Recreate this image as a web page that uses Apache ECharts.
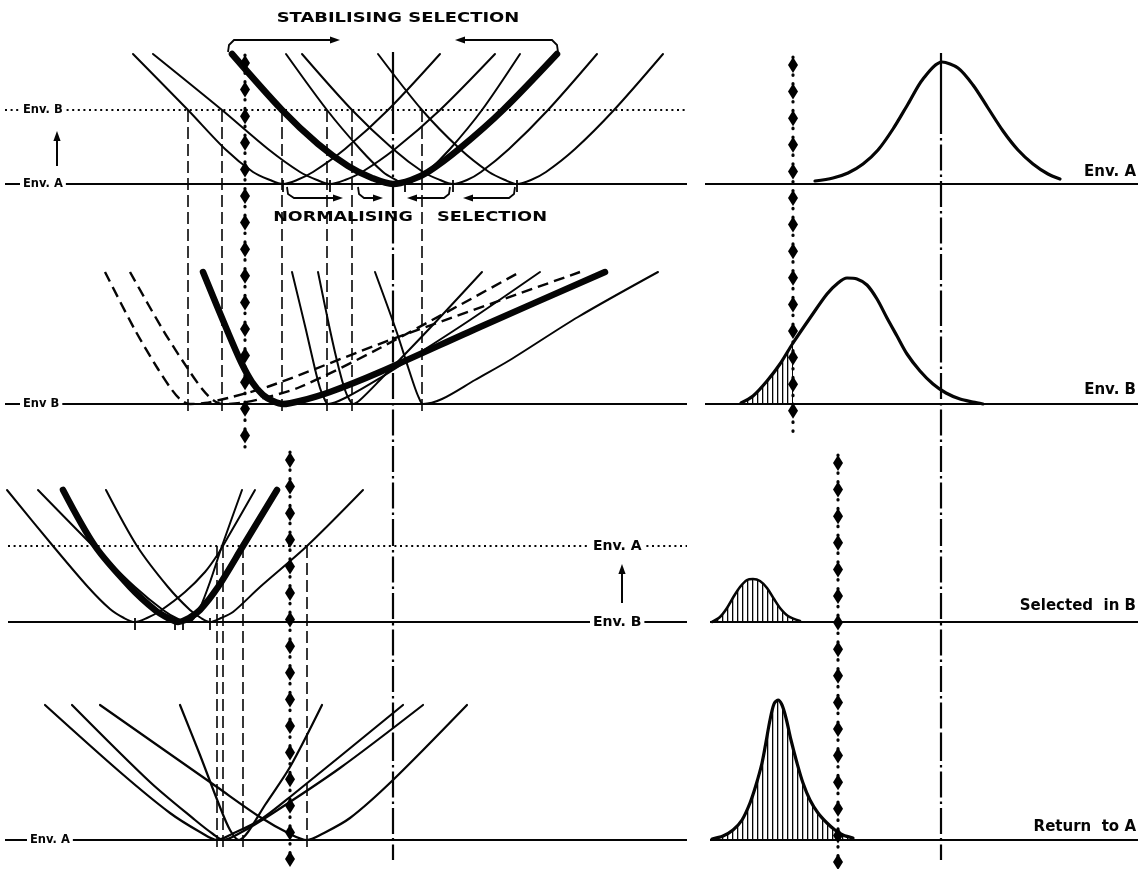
<!DOCTYPE html>
<html>
<head>
<meta charset="utf-8">
<title>Stabilising and normalising selection</title>
<script src="https://cdn.jsdelivr.net/npm/echarts@6.0.0/dist/echarts.min.js"></script>
<style>
html,body{margin:0;padding:0;background:#fff;}
#chart{width:1141px;height:869px;}
</style>
</head>
<body>
<div id="chart"></div>
<script>
// ================= DATA =================
// x = phenotype value, y = height above the panel's own baseline
const meanPhenotype = 393;
const selectionCutUpper = 245;
const selectionCutLower = 290;
const envBAboveEnvA = 74;
const envAAboveEnvB = 76;

// Panel 1 – reaction norms, Env. A baseline, Env. B dotted level
const p1ThinNorms = [
  [[133,130],[188,74],[225,35],[253,12],[270,4],[283,0],[297,4],[313,12],[345,35],[388,74],[440,130]],
  [[153,130],[222,74],[268,35],[300,12],[317,4],[330,0],[345,4],[362,12],[395,35],[440,74],[495,130]],
  [[286,130],[327,74],[360,35],[383,12],[396,4],[405,0],[415,4],[427,12],[450,35],[482,74],[520,130]],
  [[302,130],[352,74],[393,35],[423,12],[440,4],[453,0],[467,4],[481,12],[509,35],[548,74],[597,130]],
  [[378,130],[422,74],[460,35],[489,12],[505,4],[517,0],[531,4],[546,12],[575,35],[614,74],[663,130]]
];
const p1ThickNorm = [[232,130],[282,74],[318,40],[348,18],[372,6],[393,0],[411,4],[428,12],[459,35],[503,74],[557,130]];
const p1VertexTicks = [283, 330, 405, 453, 517];
const p1ToP2Links = [188, 222, 282, 327, 352, 422];

// Panel 2 – the same genotypes in Env. B
const p2DashedNorms = [
  [[105,132],[135,74],[158,35],[172,14],[181,4],[190,0],[205,1],[228,6],[270,18],[390,64],[580,132]],
  [[130,132],[163,74],[188,35],[203,14],[213,4],[222,0],[240,1],[260,5],[300,17],[380,56],[520,132]]
];
const p2ThickNorm = [[203,132],[227,74],[241,42],[252,22],[263,9],[273,3],[283,0],[300,3],[330,12],[380,32],[480,77],[605,132]];
const p2ThinNorms = [
  [[292,132],[306,74],[315,35],[320,16],[324,6],[328,0],[345,6],[380,26],[413,47],[470,84],[540,132]],
  [[318,132],[330,74],[339,35],[345,14],[349,5],[353,0],[360,4],[380,24],[430,76],[482,132]],
  [[375,132],[396,74],[408,37],[415,16],[419,6],[423,0],[442,5],[475,24],[510,44],[578,87],[658,132]]
];

// Panel 3 – selected genotypes, Env. B baseline, Env. A dotted level
const p3ThinNorms = [
  [[7,132],[53,76],[88,35],[110,13],[124,4],[135,0],[147,4],[160,11],[185,30],[205,50],[218,68],[228,85],[255,132]],
  [[38,132],[93,76],[135,35],[163,12],[178,3],[188,0],[194,4],[200,14],[210,40],[222,76],[242,132]],
  [[106,132],[137,76],[168,35],[190,12],[201,4],[210,0],[221,4],[233,10],[260,35],[307,76],[363,132]]
];
const p3ThickNorm = [[63,132],[95,76],[130,35],[155,12],[168,4],[178,0],[189,4],[200,12],[218,35],[243,76],[277,132]];
const p3VertexTicks = [135, 175, 183, 210];
const p3ToP4Links = [217, 223, 243, 307];

// Panel 4 – returned to Env. A
const p4ThinNorms = [
  [[45,135],[120,68],[170,27],[200,8],[217,0],[232,6],[260,20],[290,43],[403,135]],
  [[72,135],[150,58],[195,20],[213,6],[223,0],[240,7],[270,25],[340,72],[423,135]],
  [[180,135],[200,85],[218,38],[230,10],[239,0],[248,8],[265,35],[290,73],[322,135]],
  [[100,135],[217,53],[260,23],[290,6],[307,0],[322,6],[350,22],[393,60],[467,135]]
];

// Right column – phenotype distributions
const distEnvA = [[267,3],[285,6],[300,11],[315,20],[330,34],[345,55],[360,80],[375,105],[394,122],[410,116],[425,99],[440,76],[455,53],[470,34],[485,20],[500,10],[512,5]];
const distEnvB = [[193,1],[205,8],[219,23],[232,40],[245,61],[262,86],[279,110],[290,121],[299,126],[309,125],[319,119],[329,105],[339,86],[349,68],[359,50],[372,33],[385,20],[398,11],[412,5],[425,2],[435,0]];
const distSelectedInB = [[164,0],[172,5],[179,14],[186,26],[192,35],[199,42],[205,43],[212,41],[219,34],[226,23],[232,14],[240,6],[252,1]];
const distReturnToA = [[164,1],[175,4],[185,10],[194,20],[202,37],[208,55],[214,77],[218,98],[222,120],[226,136],[230,140],[234,135],[238,122],[243,100],[249,77],[255,57],[262,40],[270,27],[279,17],[287,10],[295,5],[305,2]];

const titleTop = 'STABILISING SELECTION';
const titleMidLeft = 'NORMALISING';
const titleMidRight = 'SELECTION';
const leftLabels = ['Env. B', 'Env. A', 'Env B', 'Env. A'];
const panel3Labels = ['Env. A', 'Env. B'];
const rightLabels = ['Env. A', 'Env. B', 'Selected  in B', 'Return  to A'];

// ================= LAYOUT / STYLE =================
const INK = '#050505';
const BASE_Y = [184, 404, 622, 840];
const RIGHT_XMIN = 152, RIGHT_XMAX = 593;
const LFONT = 'bold 11.5px "DejaVu Sans"';
const MFONT = 'bold 14px "DejaVu Sans"';
const RFONT = 'bold 15px "DejaVu Sans"';

const hatch = document.createElement('canvas');
hatch.width = 5; hatch.height = 4;
(function(){ const g = hatch.getContext('2d'); g.fillStyle = INK; g.fillRect(2,0,1.3,4); })();

const grids = [], xAxes = [], yAxes = [];
BASE_Y.forEach((b, i) => {
  grids.push({left: 0, top: b - 150, width: 700, height: 170});
  xAxes.push({type: 'value', gridIndex: i, min: 0, max: 700, show: false});
  yAxes.push({type: 'value', gridIndex: i, min: -20, max: 150, show: false});
});
BASE_Y.forEach((b, i) => {
  grids.push({left: 700, top: b - 150, width: 441, height: 170});
  xAxes.push({type: 'value', gridIndex: 4 + i, min: RIGHT_XMIN, max: RIGHT_XMAX, show: false});
  yAxes.push({type: 'value', gridIndex: 4 + i, min: -20, max: 150, show: false});
});

const series = [];
const hAt = (gi, py) => BASE_Y[gi % 4] - py;
function curve(gi, pts, w, type, smooth, cap) {
  series.push({
    type: 'line', xAxisIndex: gi, yAxisIndex: gi, data: pts,
    smooth: smooth === undefined ? 0.3 : smooth, symbol: 'none', clip: false, silent: true,
    lineStyle: {color: INK, width: w, type: type || 'solid', cap: cap || 'round', join: 'round'}, z: 3
  });
}
function hatchArea(gi, pts) {
  series.push({
    type: 'line', xAxisIndex: gi, yAxisIndex: gi, data: pts, smooth: 0.3,
    symbol: 'none', clip: false, silent: true,
    lineStyle: {width: 0, opacity: 0},
    areaStyle: {color: {image: hatch, repeat: 'repeat'}, opacity: 1}, z: 2
  });
}
function hline(gi, x0, x1, h, w, type) {
  curve(gi, [[x0, h], [x1, h]], w, type, false, 'butt');
}
function vline(gi, x, pyTop, pyBot, w, type, cap) {
  curve(gi, [[x, hAt(gi, pyTop)], [x, hAt(gi, pyBot)]], w, type, false, cap || 'butt');
}
function diamondLine(gi, x, pyTop, pyBot) {
  vline(gi, x, pyTop, pyBot, 3.2, [0.5, 8.4], 'round');
  const pts = [];
  for (let py = pyTop + 8; py <= pyBot - 2; py += 26.6) pts.push([x, hAt(gi, py)]);
  series.push({type: 'scatter', xAxisIndex: gi, yAxisIndex: gi, data: pts, symbol: 'diamond',
    symbolSize: [10, 16], clip: false, silent: true, itemStyle: {color: '#000', opacity: 1}, z: 4});
}

// baselines and environment levels
hline(0, 5, 687, 0, 1.8);
hline(0, 5, 687, envBAboveEnvA, 2, [2, 3.6]);
hline(1, 5, 687, 0, 1.8);
hline(2, 8, 687, envAAboveEnvB, 2, [2, 3.6]);
hline(2, 8, 687, 0, 1.8);
hline(3, 5, 687, 0, 1.8);
hline(4, 157, 590, 0, 2);
hline(5, 157, 590, 0, 2);
hline(6, 162, 590, 0, 2);
hline(7, 162, 590, 0, 2);

// reaction norms
p1ThinNorms.forEach(c => curve(0, c, 2));
curve(0, p1ThickNorm, 6.5);
p2DashedNorms.forEach(c => curve(1, c, 2.4, [11, 6], 0.3, 'butt'));
curve(1, p2ThickNorm, 6.5);
p2ThinNorms.forEach(c => curve(1, c, 2));
p3ThinNorms.forEach(c => curve(2, c, 2));
curve(2, p3ThickNorm, 6.5);
p4ThinNorms.forEach(c => curve(3, c, 2.2));

// connectors and ticks
p1ToP2Links.forEach(x => vline(1, x, BASE_Y[0] - envBAboveEnvA, BASE_Y[1] + 8, 1.6, [12, 5]));
p3ToP4Links.forEach(x => vline(3, x, BASE_Y[2] - envAAboveEnvB, BASE_Y[3] + 8, 1.6, [12, 5]));
p1VertexTicks.forEach(x => vline(0, x, BASE_Y[0] - 4, BASE_Y[0] + 8, 1.8));
p3VertexTicks.forEach(x => vline(2, x, BASE_Y[2] - 4, BASE_Y[2] + 8, 1.8));

// mean (dash-dot), drawn panel by panel, and selection thresholds (diamond lines)
const DASHDOT = [26, 4, 2.5, 4];
const MEAN_SEGMENTS = [[108, 300], [300, 520], [520, 735], [735, 860]];
vline(0, meanPhenotype, 52, 108, 2.2);
vline(4, meanPhenotype, 53, 108, 2.2);
MEAN_SEGMENTS.forEach((s, i) => {
  vline(i, meanPhenotype, s[0], s[1], 2.2, DASHDOT);
  vline(4 + i, meanPhenotype, s[0], s[1], 2.2, DASHDOT);
});
diamondLine(0, selectionCutUpper, 55, 447);
diamondLine(2, selectionCutLower, 452, 865);
diamondLine(4, selectionCutUpper, 57, 438);
diamondLine(6, selectionCutLower, 455, 865);

// distributions
curve(4, distEnvA, 3.2);
hatchArea(5, distEnvB.filter(p => p[0] <= selectionCutUpper));
curve(5, distEnvB, 3.2);
hatchArea(6, distSelectedInB);
curve(6, distSelectedInB, 2.6);
hatchArea(7, distReturnToA);
curve(7, distReturnToA, 3.2);

// ---------- annotations ----------
function txt(text, x, y, font, align, sx, bg) {
  const el = {type: 'text', x: x, y: y, z: 100, scaleX: sx || 1,
    style: {text: text, font: font, fill: INK, textAlign: align, textVerticalAlign: 'middle',
            align: align, verticalAlign: 'middle'}};
  if (bg) { el.style.backgroundColor = '#fff'; el.style.padding = [1, 3]; }
  return el;
}
function pl(points, w) {
  return {type: 'polyline', z: 100, shape: {points: points}, style: {stroke: INK, lineWidth: w || 1.8, fill: null}};
}
function head(tx, ty, dir) {
  const L = 10, W = 3.6;
  let pts;
  if (dir === 'r') pts = [[tx, ty], [tx - L, ty - W], [tx - L, ty + W]];
  else if (dir === 'l') pts = [[tx, ty], [tx + L, ty - W], [tx + L, ty + W]];
  else pts = [[tx, ty], [tx - W, ty + L], [tx + W, ty + L]];
  return {type: 'polygon', z: 100, shape: {points: pts}, style: {fill: INK}};
}

const graphics = [
  txt(titleTop, 398, 18, MFONT, 'center', 1.28),
  txt(titleMidLeft, 343, 217, MFONT, 'center', 1.25),
  txt(titleMidRight, 492, 217, MFONT, 'center', 1.27),
  txt(leftLabels[0], 20, BASE_Y[0] - envBAboveEnvA, LFONT, 'left', 1, true),
  txt(leftLabels[1], 20, BASE_Y[0], LFONT, 'left', 1, true),
  txt(leftLabels[2], 20, BASE_Y[1], LFONT, 'left', 1, true),
  txt(leftLabels[3], 27, BASE_Y[3], LFONT, 'left', 1, true),
  txt(panel3Labels[0], 590, BASE_Y[2] - envAAboveEnvB, MFONT, 'left', 1, true),
  txt(panel3Labels[1], 590, BASE_Y[2], MFONT, 'left', 1, true),
  txt(rightLabels[0], 1136, 172, RFONT, 'right'),
  txt(rightLabels[1], 1136, 390, RFONT, 'right'),
  txt(rightLabels[2], 1136, 606, RFONT, 'right'),
  txt(rightLabels[3], 1136, 827, RFONT, 'right'),
  // up arrows
  pl([[57, 166], [57, 140]], 2), head(57, 131, 'u'),
  pl([[622, 603], [622, 573]], 2), head(622, 564, 'u'),
  // stabilising bracket
  pl([[228, 52], [229, 45], [234, 40], [331, 40]]), head(340, 40, 'r'),
  pl([[464, 40], [552, 40], [557, 45], [558, 52]]), head(455, 40, 'l'),
  // normalising brackets
  pl([[287, 187], [288, 194], [294, 198], [334, 198]]), head(343, 198, 'r'),
  pl([[358, 187], [359, 194], [364, 198], [374, 198]]), head(383, 198, 'r'),
  pl([[415, 198], [444, 198], [449, 194], [450, 187]]), head(407, 198, 'l'),
  pl([[471, 198], [509, 198], [514, 194], [515, 187]]), head(463, 198, 'l')
];

const chart = echarts.init(document.getElementById('chart'), null, {renderer: 'canvas'});
chart.setOption({
  backgroundColor: '#fff',
  animation: false,
  grid: grids, xAxis: xAxes, yAxis: yAxes,
  series: series,
  graphic: graphics
});
</script>
</body>
</html>
